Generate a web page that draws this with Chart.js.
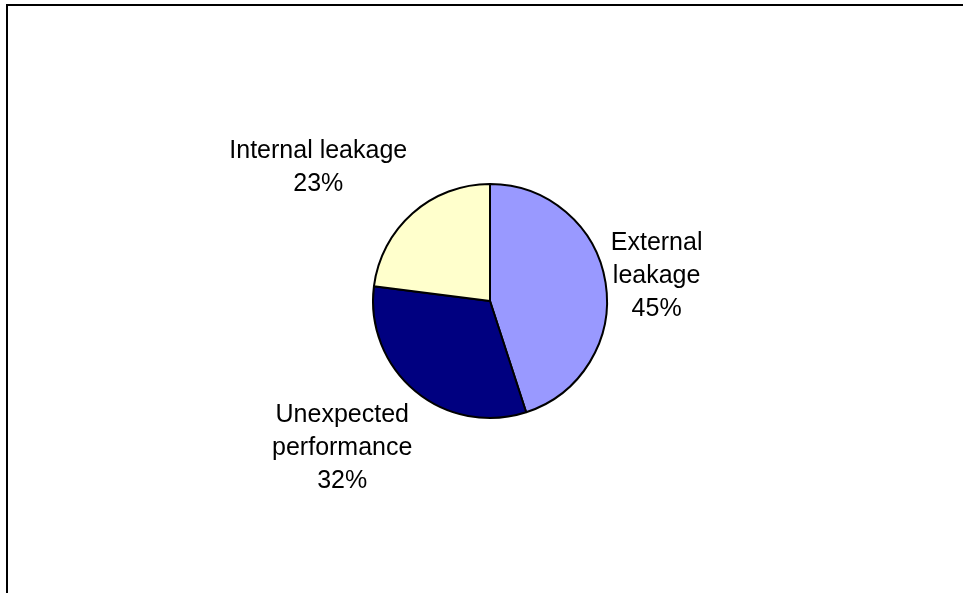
<!DOCTYPE html>
<html>
<head>
<meta charset="utf-8">
<title>Leakage pie</title>
<script src="https://cdn.jsdelivr.net/npm/chart.js@4"></script>
<style>
    html, body { margin: 0; padding: 0; background: #ffffff; }
    #wrap { position: relative; width: 963px; height: 593px; }
</style>
</head>
<body>
<div id="wrap"><canvas id="grafico"></canvas></div>
<script>
/*global Chart*/
var categorias = [["External", "leakage"], ["Unexpected", "performance"], ["Internal leakage"]];
var valores = [45, 32, 23];
var colores = ["#9999FF", "#000080", "#FFFFCC"];

// label placement: distance (in radii) and small angle tweak (degrees)
var distEtiqueta = [1.44, 1.78, 1.86];
var giroEtiqueta = [0.5, 5.6, -10.7];

var marco = {
    id: "marco",
    beforeDraw: function (chart) {
        "use strict";
        var ctx = chart.ctx;
        ctx.save();
        ctx.fillStyle = "#000000";
        ctx.fillRect(6, 4, 2, chart.height);
        ctx.fillRect(6, 4, chart.width, 2);
        ctx.restore();
    }
};

var etiquetas = {
    id: "etiquetas",
    afterDatasetsDraw: function (chart) {
        "use strict";
        var ctx = chart.ctx;
        var meta = chart.getDatasetMeta(0);
        var total = valores.reduce(function (a, b) { return a + b; }, 0);
        ctx.save();
        ctx.font = "25px 'Liberation Sans', Arial, sans-serif";
        ctx.fillStyle = "#000000";
        ctx.textAlign = "center";
        ctx.textBaseline = "middle";
        meta.data.forEach(function (arc, i) {
            var p = arc.getProps(["x", "y", "startAngle", "endAngle", "outerRadius"], true);
            var mid = (p.startAngle + p.endAngle) / 2 + giroEtiqueta[i] * Math.PI / 180;
            var d = p.outerRadius * distEtiqueta[i];
            var cx = p.x + Math.cos(mid) * d;
            var cy = p.y + Math.sin(mid) * d;
            var lineas = categorias[i].concat([Math.round(valores[i] / total * 100) + "%"]);
            var alto = 33;
            var y0 = cy - (lineas.length - 1) * alto / 2;
            lineas.forEach(function (t, j) {
                ctx.fillText(t, cx, y0 + j * alto);
            });
        });
        ctx.restore();
    }
};

new Chart(document.getElementById("grafico"), {
    type: "pie",
    data: {
        labels: categorias.map(function (c) { return c.join(" "); }),
        datasets: [{
            data: valores,
            backgroundColor: colores,
            borderColor: "#000000",
            borderWidth: 2
        }]
    },
    options: {
        responsive: true,
        maintainAspectRatio: false,
        animation: false,
        events: [],
        layout: {
            padding: { top: 183, bottom: 174, left: 17, right: 0 }
        },
        plugins: {
            legend: { display: false },
            tooltip: { enabled: false }
        }
    },
    plugins: [marco, etiquetas]
});
</script>
</body>
</html>
